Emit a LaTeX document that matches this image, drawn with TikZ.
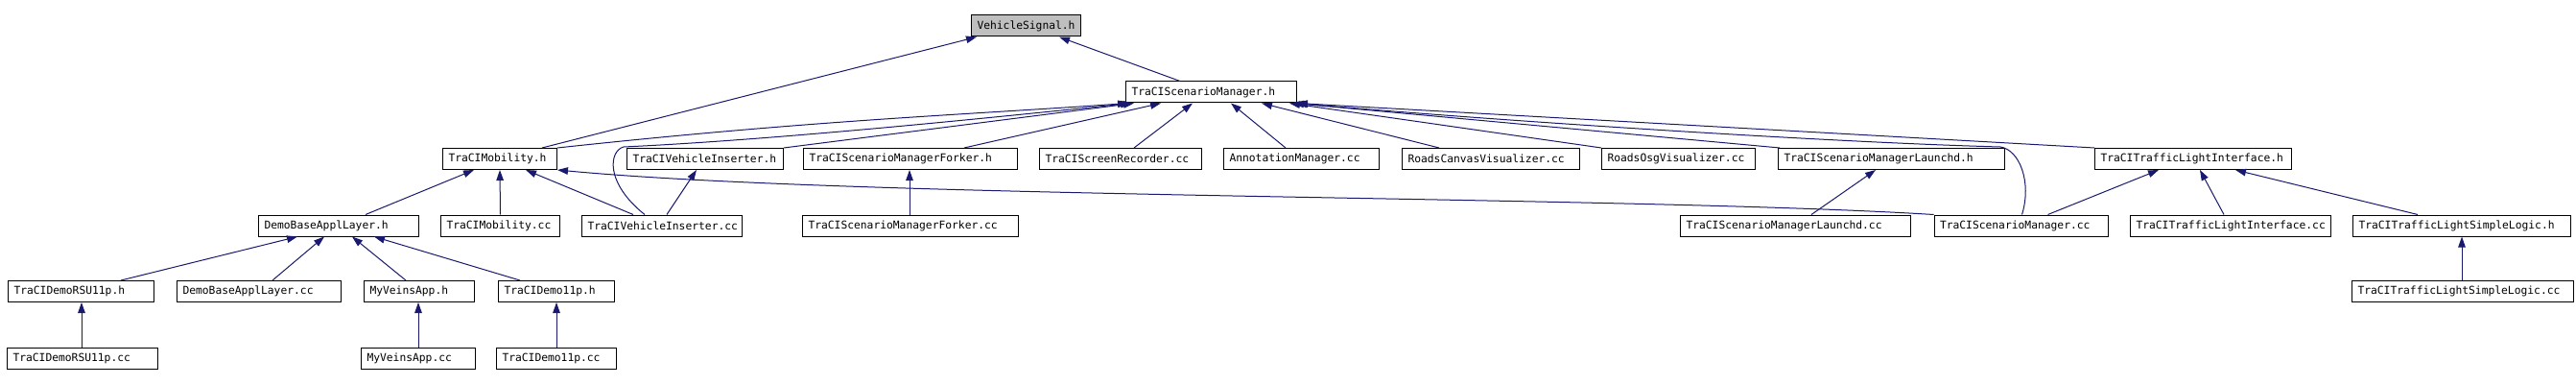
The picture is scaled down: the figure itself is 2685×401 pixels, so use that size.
\documentclass[tikz,border=0pt]{standalone}
\usepackage{fontspec}
\newfontfamily\filefont[HyphenChar=None]{DejaVu Sans Mono}
\usepackage{tikz}
\usetikzlibrary{arrows.meta}
\definecolor{cedge}{HTML}{191970}
\definecolor{croot}{HTML}{BFBFBF}

\begin{document}
\begin{tikzpicture}[
  x=1pt, y=-1pt,
  font=\filefont\fontsize{11.3}{13}\selectfont,
  fbox/.style={draw=black, fill=white, line width=1pt, anchor=west, minimum height=22pt, inner xsep=6pt, inner ysep=0pt, align=left, text width=#1},
  rootbox/.style={fbox=#1, fill=croot},
  dep/.style={draw=cedge, line width=1pt, {Triangle[length=11pt,width=7.5pt]}-},
]
  \fill[white] (0,0) rectangle (2685,401);
  \useasboundingbox (0,0) rectangle (2685,401);
  % --- included header and direct includers ---
  \node[rootbox=102pt] (vsigh) at (1012,27) {VehicleSignal.h};
  \node[fbox=166pt] (tsmh) at (1173,96) {TraCIScenarioManager.h};
  % --- row 2 ---
  \node[fbox=107pt] (tmobh)  at (461,165.5)  {TraCIMobility.h};
  \node[fbox=151pt] (tvih)   at (653,165.5)  {TraCIVehicleInserter.h};
  \node[fbox=211pt] (tsmfh)  at (837,165.5)  {TraCIScenarioManagerForker.h};
  \node[fbox=157pt] (tscrcc) at (1083,165.5) {TraCIScreenRecorder.cc};
  \node[fbox=150pt] (annocc) at (1275,165.5) {AnnotationManager.cc};
  \node[fbox=173pt] (rcvcc)  at (1461,165.5) {RoadsCanvasVisualizer.cc};
  \node[fbox=148pt] (rosgcc) at (1669,165.5) {RoadsOsgVisualizer.cc};
  \node[fbox=224pt] (tsmlh)  at (1853,165.5) {TraCIScenarioManagerLaunchd.h};
  \node[fbox=193pt] (ttlih)  at (2183,165.5) {TraCITrafficLightInterface.h};
  % --- row 3 ---
  \node[fbox=155pt] (dbalh)  at (269,235)    {DemoBaseApplLayer.h};
  \node[fbox=112pt] (tmobcc) at (459,235)    {TraCIMobility.cc};
  \node[fbox=155pt] (tvicc)  at (606,235)    {TraCIVehicleInserter.cc};
  \node[fbox=213pt] (tsmfcc) at (836,235)    {TraCIScenarioManagerForker.cc};
  \node[fbox=228pt] (tsmlcc) at (1751,235)   {TraCIScenarioManagerLaunchd.cc};
  \node[fbox=169pt] (tsmcc)  at (2015.5,235) {TraCIScenarioManager.cc};
  \node[fbox=197pt] (ttlicc) at (2220,235)   {TraCITrafficLightInterface.cc};
  \node[fbox=215pt] (ttlslh) at (2452,235)   {TraCITrafficLightSimpleLogic.h};
  % --- row 4 ---
  \node[fbox=140pt] (rsuh)    at (8,303.5)    {TraCIDemoRSU11p.h};
  \node[fbox=159pt] (dbalcc)  at (184,303.5)  {DemoBaseApplLayer.cc};
  \node[fbox=103pt] (mvah)    at (379,303.5)  {MyVeinsApp.h};
  \node[fbox=109pt] (demoh)   at (519,303.5)  {TraCIDemo11p.h};
  \node[fbox=219pt] (ttlslcc) at (2451,303.5) {TraCITrafficLightSimpleLogic.cc};
  % --- row 5 ---
  \node[fbox=145pt] (rsucc)  at (7,373)   {TraCIDemoRSU11p.cc};
  \node[fbox=107pt] (mvacc)  at (376,373) {MyVeinsApp.cc};
  \node[fbox=113pt] (democc) at (517,373) {TraCIDemo11p.cc};
  % --- straight include edges (target/shift/source/shift) ---
  \foreach \tgt/\ta/\src/\sa in {vsigh/6pt/tmobh/104pt, tsmh/37pt/tsmfh/168pt, tsmh/70pt/tscrcc/99pt,
      tsmh/110pt/annocc/65pt, tsmh/142pt/rcvcc/39pt, tmobh/33pt/dbalh/112pt, tmobh/87pt/tvicc/54pt,
      tvih/73pt/tvicc/89pt, tsmfh/111pt/tsmfcc/112pt, tsmlh/102pt/tsmlcc/137pt, ttlih/67pt/tsmcc/119pt,
      ttlih/110pt/ttlicc/98pt, ttlih/147pt/ttlslh/68pt, ttlslh/114pt/ttlslcc/115pt,
      dbalh/41pt/rsuh/118pt, dbalh/69pt/dbalcc/100pt, dbalh/98pt/mvah/44pt, dbalh/121pt/demoh/23pt,
      rsuh/77pt/rsucc/78pt, mvah/57pt/mvacc/60pt, demoh/61pt/democc/63pt}
    {\draw[dep] ([xshift=\ta]\tgt.south west) -- ([xshift=\sa]\src.north west);}
  \draw[dep] ([xshift=92pt]vsigh.south west) -- ([xshift=57pt]tsmh.north west);
  \draw[dep] (tmobh.south) -- (tmobcc.north);
  % --- long edges into TraCIScenarioManager.h ---
  \draw[dep] ([xshift=3pt]tsmh.south west) .. controls (1000,120) and (850,125) .. (tmobh.north east);
  \draw[dep] ([xshift=6pt]tsmh.south west) .. controls (1000,126) and (800,146) .. (650,153)
    .. controls (635,157) and (630,190) .. ([xshift=66pt]tvicc.north west);
  \draw[dep] ([xshift=9pt]tsmh.south west) -- (tvih.north east);
  \draw[dep] ([xshift=-8pt]tsmh.south east) -- (rosgcc.north west);
  \draw[dep] ([xshift=-4pt]tsmh.south east) -- ([xshift=2pt]tsmlh.north west);
  \draw[dep] ([xshift=-1pt]tsmh.south east) .. controls (1550,125) and (1900,148) .. (2085,153)
    .. controls (2105,156) and (2118,190) .. ([xshift=92pt]tsmcc.north west);
  \draw[dep] (tsmh.south east) -- (ttlih.north west);
  % --- TraCIScenarioManager.cc back to TraCIMobility.h ---
  \draw[dep] (tmobh.south east) .. controls (900,207) and (1700,204) .. (tsmcc.north west);
\end{tikzpicture}
\end{document}
